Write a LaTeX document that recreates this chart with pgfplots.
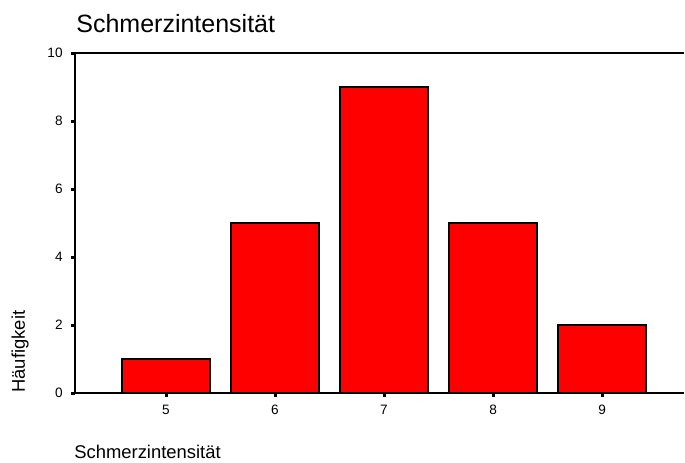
\documentclass[border=0pt]{standalone}
\usepackage{fontspec}
\setmainfont{Liberation Sans}
\usepackage{pgfplots}
\pgfplotsset{compat=1.18}
\begin{document}
\begin{tikzpicture}
\path[use as bounding box] (0,0) rectangle (342.5pt,231pt);
\begin{axis}[
  at={(37.5pt,34.5pt)}, anchor=south west,
  scale only axis, width=304.5pt, height=170pt,
  axis x line=box, axis y line=left,
  axis line style={-, line width=1pt, black},
  xmin=4.165, xmax=9.752, ymin=0, ymax=10,
  xtick={5,6,7,8,9}, ytick={0,2,4,6,8,10},
  xtick pos=bottom, ytick pos=left,
  tick align=outside, major tick length=2pt,
  tick style={line width=1.5pt, black},
  /pgf/number format/assume math mode=true,
  ticklabel style={font=\fontsize{6.8}{7.5}\selectfont},
  yticklabel style={inner sep=0pt, anchor=east, xshift=-4pt},
  xticklabel style={inner sep=0pt, anchor=north, yshift=-3.8pt},
  clip=false,
]
\addplot[ybar, bar width=0.807, fill={rgb,255:red,255;green,0;blue,0}, draw=black, line width=0.9pt]
  coordinates {(5,1) (6,5) (7,9) (8,5) (9,2)};
\end{axis}
\node[anchor=base west, inner sep=0pt, font=\fontsize{12.5}{14}\selectfont] at (38pt,214.85pt) {Schmerzintensität};
\node[anchor=base west, inner sep=0pt, font=\fontsize{9.2}{11}\selectfont] at (37pt,1.7pt) {Schmerzintensität};
\node[anchor=base west, inner sep=0pt, rotate=90, font=\fontsize{9.2}{11}\selectfont] at (12.5pt,34.5pt) {Häufigkeit};
\end{tikzpicture}
\end{document}
